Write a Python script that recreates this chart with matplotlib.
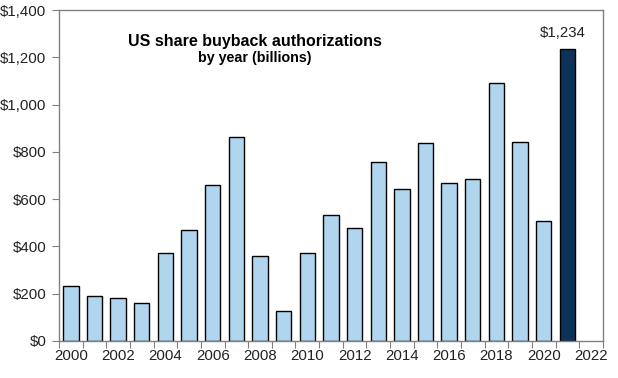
import matplotlib.pyplot as plt
from matplotlib.ticker import FuncFormatter

plt.rcParams['font.family'] = ['Liberation Sans', 'DejaVu Sans']

# Buyback authorizations by year (billions of USD)
years = list(range(2000, 2022))
values = [232, 189, 180, 159, 371, 468, 659, 863, 358, 126, 371,
          533, 477, 756, 642, 836, 667, 684, 1090, 840, 506, 1234]
year_labels = [str(y) for y in range(2000, 2023, 2)]
highlight_year = 2021

light_blue = '#B0D5EE'
dark_blue = '#0C3357'

fig = plt.figure(figsize=(6.18, 3.78), dpi=100)
ax = fig.add_axes([0.0955, 0.098, 0.88, 0.8755])

pos = [y - 2000 for y in years]
colors = [dark_blue if y == highlight_year else light_blue for y in years]
ax.bar(pos, values, width=0.65, color=colors, edgecolor='black', linewidth=1.0, zorder=2)

# value label on the highlighted bar
hi = years.index(highlight_year)
ax.text(pos[hi] - 0.2, values[hi] + 40, f"${values[hi]:,}", ha='center', va='bottom', fontsize=10.8,
        color='#222222')

ax.set_xlim(-0.5, 22.5)
ax.set_ylim(0, 1400)
ax.set_yticks(range(0, 1401, 200))
ax.yaxis.set_major_formatter(FuncFormatter(lambda v, p: f"${int(v):,}"))

# category axis: ticks at boundaries, labels centered under every other year
ax.set_xticks([i - 0.5 for i in range(24)])
ax.set_xticklabels([])
ax.set_xticks(list(range(0, 23, 2)), minor=True)
ax.set_xticklabels(year_labels, minor=True)
ax.tick_params(axis='x', which='minor', length=0, pad=6, labelsize=10.8, labelcolor='#222222')
ax.tick_params(axis='x', which='major', length=5, color='#808080', direction='out')
ax.tick_params(axis='y', length=5, color='#808080', direction='out', labelsize=10.8,
               labelcolor='#222222', pad=4)

for s in ax.spines.values():
    s.set_color('#808080')
    s.set_linewidth(1.0)

ax.text(0.36, 0.905, "US share buyback authorizations", transform=ax.transAxes,
        ha='center', va='center', fontsize=11.5, fontweight='bold')
ax.text(0.36, 0.855, "by year (billions)", transform=ax.transAxes,
        ha='center', va='center', fontsize=10.3, fontweight='bold')

fig.savefig('out.png', dpi=100)
